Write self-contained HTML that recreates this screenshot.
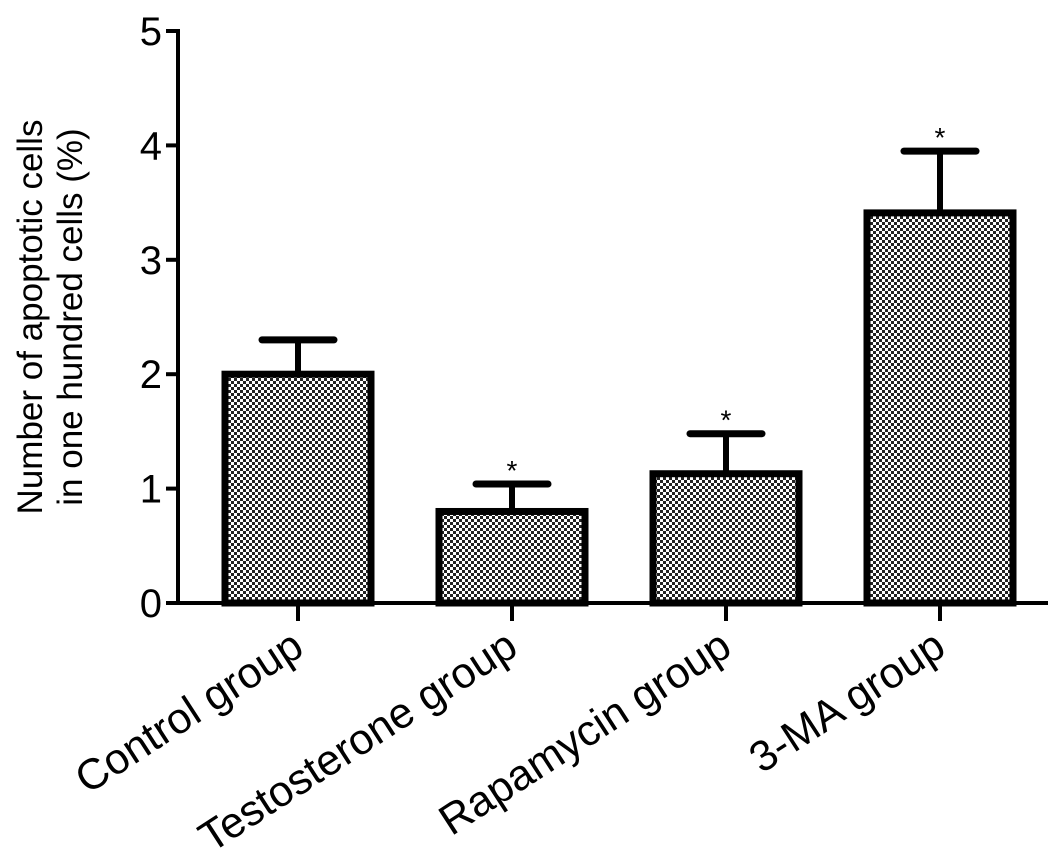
<!DOCTYPE html>
<html><head><meta charset="utf-8"><style>
body{margin:0;background:#fff}
svg{display:block;font-family:"Liberation Sans",Arial,sans-serif}
</style></head><body>
<svg id="chart" width="1063" height="852" viewBox="0 0 1063 852">
<defs>
<pattern id="dots" width="6" height="6" patternUnits="userSpaceOnUse">
<rect width="6" height="6" fill="#fff"/>
<rect x="0" y="0" width="3" height="3" fill="#222"/>
<rect x="3" y="3" width="3" height="3" fill="#222"/>
</pattern>
</defs>
<g id="plot"></g>
</svg>
<script>
const categories=["Control group","Testosterone group","Rapamycin group","3-MA group"];
const values=[2.0,0.8,1.13,3.41];
const errors=[0.3,0.24,0.35,0.54];
const stars=[false,true,true,true];
const yTicks=[0,1,2,3,4,5];
const NS="http://www.w3.org/2000/svg";
const g=document.getElementById('plot');
const x0=178,x1=1048,yB=603,yT=31,yMax=5;
function y(v){return yB-(v/yMax)*(yB-yT);}
function cx(i){return 298+i*214;}
function el(tag,attrs,parent){const e=document.createElementNS(NS,tag);for(const k in attrs)e.setAttribute(k,attrs[k]);(parent||g).appendChild(e);return e;}
const ya=el('line',{x1:x0,y1:yT-2,x2:x0,y2:yB,stroke:'#000','stroke-width':4});


const xa=el('line',{x1:x0,y1:yB,x2:x1,y2:yB,stroke:'#000','stroke-width':4});


yTicks.forEach(t=>{
 const tk=el('line',{x1:x0-12,y1:y(t),x2:x0,y2:y(t),stroke:'#000','stroke-width':4});
 
 
 const tx=el('text',{x:x0-16,y:y(t)+14,'text-anchor':'end','font-size':40});
 tx.textContent=t;
 
 
});
const yl=el('text',{transform:'translate(44,317) rotate(-90)','text-anchor':'middle','font-size':35});


const t1=el('tspan',{x:0,dy:-2},yl);t1.textContent='Number of apoptotic cells';
const t2=el('tspan',{x:0,dy:40},yl);t2.textContent='in one hundred cells (%)';
categories.forEach((c,i)=>{
 const c0=cx(i),half=73;
 const ex=el('line',{x1:c0,y1:y(values[i]),x2:c0,y2:y(values[i]+errors[i]),stroke:'#000','stroke-width':6});
 
 
 const cap=el('line',{x1:c0-36,y1:y(values[i]+errors[i]),x2:c0+36,y2:y(values[i]+errors[i]),stroke:'#000','stroke-width':7,'stroke-linecap':'round'});
 
 
 const r=el('rect',{x:c0-half,y:y(values[i]),width:half*2,height:yB-y(values[i]),fill:'url(#dots)',stroke:'#000','stroke-width':7});
 
 
 if(stars[i]){const s=el('text',{x:c0,y:y(values[i]+errors[i])-4,'text-anchor':'middle','font-size':28});s.textContent='*';
 
 }
 const tk=el('line',{x1:c0,y1:yB,x2:c0,y2:yB+18,stroke:'#000','stroke-width':4});
 
 
 const lb=el('text',{transform:`translate(${c0+8},${yB+50}) rotate(-33)`,'text-anchor':'end','font-size':43});
 lb.textContent=c;
 
 
});
</script>
</body></html>
